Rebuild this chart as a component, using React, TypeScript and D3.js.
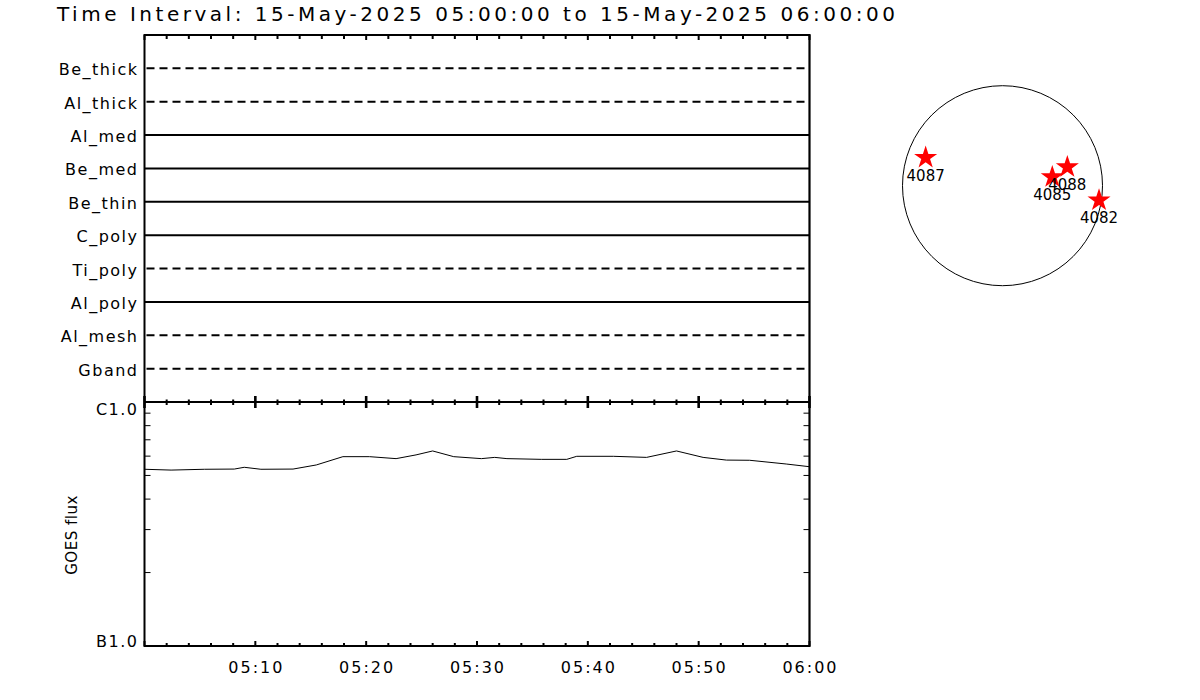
import React from "react";
import * as d3 from "d3";

// ---------- data ----------
const titleText = "Time Interval: 15-May-2025 05:00:00 to 15-May-2025 06:00:00";
const filterNames = ["Be_thick", "Al_thick", "Al_med", "Be_med", "Be_thin", "C_poly", "Ti_poly", "Al_poly", "Al_mesh", "Gband"];
const filterHasData = [false, false, true, true, true, true, false, true, false, false];

const xTickLabels = ["05:10", "05:20", "05:30", "05:40", "05:50", "06:00"];
const xTickMinutes = [10, 20, 30, 40, 50, 60];

const goesMinutes = [0, 2.4, 5.4, 8.1, 9.0, 10.5, 13.4, 15.5, 17.9, 20.3, 22.7, 24.5, 26.0, 27.9, 30.4, 31.6, 32.7, 35.8, 38.1, 39.0, 42.3, 45.3, 48.0, 50.4, 52.5, 54.6, 57.9, 60];
const goesFlux = [5.30e-7, 5.26e-7, 5.30e-7, 5.31e-7, 5.40e-7, 5.30e-7, 5.31e-7, 5.52e-7, 5.97e-7, 5.97e-7, 5.86e-7, 6.07e-7, 6.30e-7, 5.97e-7, 5.86e-7, 5.93e-7, 5.86e-7, 5.82e-7, 5.82e-7, 5.99e-7, 5.99e-7, 5.93e-7, 6.30e-7, 5.93e-7, 5.78e-7, 5.77e-7, 5.57e-7, 5.43e-7];
const goesLabels = ["B1.0", "C1.0"];
const goesLabelValues = [1e-7, 1e-6];

const regionIds = ["4087", "4085", "4088", "4082"];
const regionXArcsec = [-730, 473, 616, 917];
const regionYArcsec = [276, 92, 187, -129];
const solarRadiusArcsec = 950;

// ---------- layout ----------
const W = 1200, H = 700;
const left = 144.5, right = 809.5, top = 35, mid = 402, bottom = 646;
const font = "'DejaVu Sans', Verdana, sans-serif";

export default function App() {
  const x = d3.scaleLinear().domain([0, 60]).range([left, right]);
  const yRow = d3.scalePoint<string>().domain(filterNames).range([top, mid]).padding(1);
  const yG = d3.scaleLog().domain([1e-7, 1e-6]).range([bottom, mid]);

  const minor = d3.range(0, 61, 2);
  const logTicks = d3.range(2, 10).map((k) => k * 1e-7);

  const line = d3.line<number>()
    .x((_, i) => x(goesMinutes[i]))
    .y((d) => yG(d));

  // solar disk
  const cx = 1002.5, cy = 185.7, rDisk = 100;
  const sx = d3.scaleLinear().domain([-solarRadiusArcsec, solarRadiusArcsec]).range([cx - rDisk, cx + rDisk]);
  const sy = d3.scaleLinear().domain([-solarRadiusArcsec, solarRadiusArcsec]).range([cy + rDisk, cy - rDisk]);
  const star = d3.symbol().type(d3.symbolStar).size(165)();

  return (
    <svg width={W} height={H} style={{ position: "absolute", left: 0, top: 0, background: "#fff" }}>
      <rect x={0} y={0} width={W} height={H} fill="#fff" />
      <text x={57} y={21} fontFamily={font} fontSize={20} textLength={838} lengthAdjust="spacing" fill="#000">
        {titleText}
      </text>

      {/* filter rows */}
      {filterNames.map((n, i) => {
        const y = yRow(n)!;
        return (
          <g key={n}>
            <line
              x1={filterHasData[i] ? left : left + 2}
              x2={filterHasData[i] ? right : right - 3}
              y1={y}
              y2={y}
              stroke="#000"
              strokeWidth={2}
              strokeDasharray={filterHasData[i] ? undefined : "8 5"}
            />
            <text x={138.5} y={y + 7} textAnchor="end" fontFamily={font} fontSize={16} letterSpacing={1.5} fill="#000">
              {n}
            </text>
          </g>
        );
      })}

      {/* GOES curve */}
      <path d={line(goesFlux) || ""} fill="none" stroke="#000" strokeWidth={1} />

      {/* frame */}
      <line x1={left} x2={right} y1={top} y2={top} stroke="#000" strokeWidth={2.2} />
      <line x1={left} x2={right} y1={mid} y2={mid} stroke="#000" strokeWidth={2.2} />
      <line x1={left} x2={right} y1={bottom} y2={bottom} stroke="#000" strokeWidth={2} />
      <line x1={left} x2={left} y1={top - 1} y2={bottom + 1} stroke="#000" strokeWidth={2} />
      <line x1={right} x2={right} y1={top - 1} y2={bottom + 1} stroke="#000" strokeWidth={2.2} />

      {/* time ticks */}
      {minor.map((m) => {
        const isMaj = m % 10 === 0;
        const xx = x(m);
        return (
          <g key={"t" + m}>
            <line x1={xx} x2={xx} y1={top} y2={top + (isMaj ? 5 : 4)} stroke="#000" strokeWidth={2} />
            <line x1={xx} x2={xx} y1={mid - (isMaj ? 6 : 2.5)} y2={mid + (isMaj ? 6 : 3)} stroke="#000" strokeWidth={isMaj ? 2.6 : 2} />
            <line x1={xx} x2={xx} y1={bottom} y2={bottom - (isMaj ? 5 : 3)} stroke="#000" strokeWidth={2} />
          </g>
        );
      })}
      {xTickLabels.map((lab, i) => (
        <text key={lab} x={x(xTickMinutes[i]) + 1} y={673} textAnchor="middle" fontFamily={font} fontSize={16} letterSpacing={2} fill="#000">
          {lab}
        </text>
      ))}

      {/* log ticks */}
      {logTicks.map((v) => (
        <g key={"l" + v}>
          <line x1={left} x2={left + 6} y1={yG(v)} y2={yG(v)} stroke="#000" strokeWidth={1} />
          <line x1={right} x2={right - 6} y1={yG(v)} y2={yG(v)} stroke="#000" strokeWidth={1} />
        </g>
      ))}
      {goesLabels.map((lab, i) => (
        <text key={lab} x={138.5} y={goesLabelValues[i] === 1e-6 ? yG(goesLabelValues[i]) + 13 : yG(goesLabelValues[i]) + 0.5} textAnchor="end" fontFamily={font} fontSize={16} letterSpacing={1.5} fill="#000">
          {lab}
        </text>
      ))}
      <text transform="translate(77,535) rotate(-90)" textAnchor="middle" fontFamily={font} fontSize={15} letterSpacing={0.5} fill="#000">
        GOES flux
      </text>

      {/* solar disk */}
      <circle cx={cx} cy={cy} r={rDisk} fill="none" stroke="#000" strokeWidth={1} />
      {regionIds.map((id, i) => {
        const px = sx(regionXArcsec[i]);
        const py = sy(regionYArcsec[i]);
        return (
          <g key={id}>
            <path d={star || ""} transform={`translate(${px},${py + 1})`} fill="#ff0000" />
            <text x={px} y={py + 24} textAnchor="middle" fontFamily={font} fontSize={15} fill="#000">
              {id}
            </text>
          </g>
        );
      })}
    </svg>
  );
}
